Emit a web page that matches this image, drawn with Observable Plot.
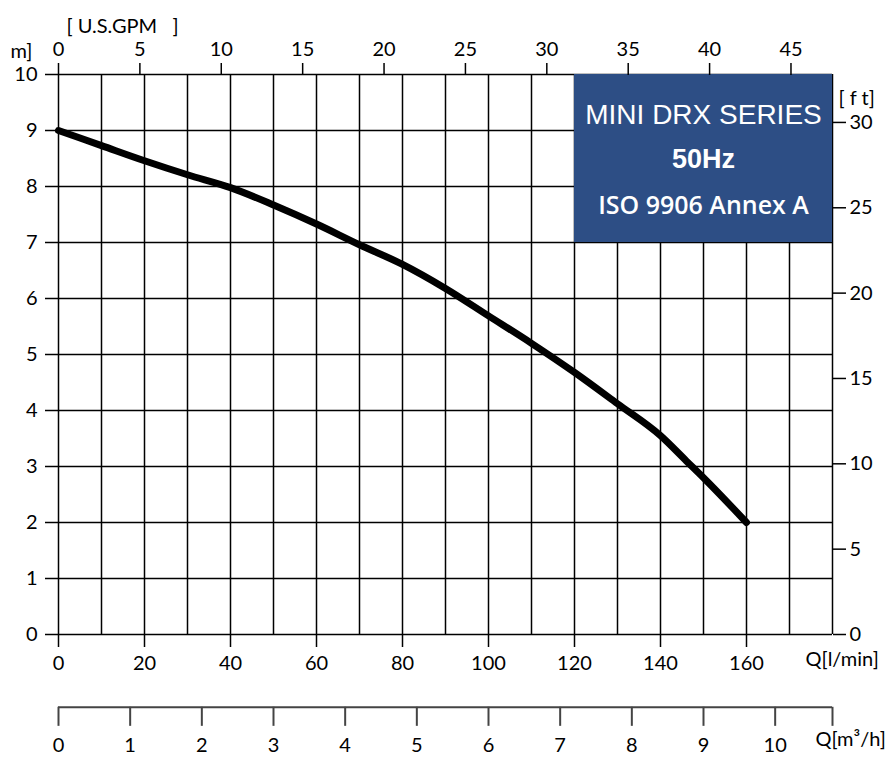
<!DOCTYPE html>
<html>
<head>
<meta charset="utf-8">
<script src="https://cdn.jsdelivr.net/npm/d3@7"></script>
<script src="https://cdn.jsdelivr.net/npm/@observablehq/plot@0.6"></script>
<style>
  html, body { margin: 0; padding: 0; background: #fff; }
</style>
</head>
<body>
<div id="chart"></div>
<script>
// Pump curve: flow Q [l/min] vs head H [m]
const flow = [0, 10, 20, 30, 40, 50, 60, 70, 80, 90, 100, 110, 120, 130, 140, 146, 150, 160];
const head = [9.0, 8.73, 8.46, 8.21, 7.98, 7.67, 7.33, 6.96, 6.61, 6.18, 5.69, 5.2, 4.68, 4.12, 3.55, 3.1, 2.8, 2.0];

const flowTicks = [0, 20, 40, 60, 80, 100, 120, 140, 160];
const headTicks = [0, 1, 2, 3, 4, 5, 6, 7, 8, 9, 10];
const gpmTicks = [0, 5, 10, 15, 20, 25, 30, 35, 40, 45];
const ftTicks = [0, 5, 10, 15, 20, 25, 30];
const m3hTicks = [0, 1, 2, 3, 4, 5, 6, 7, 8, 9, 10];
const titleLines = ["MINI DRX SERIES", "50Hz", "ISO 9906 Annex A"];

const LPM_PER_GPM = 3.78541;
const M_PER_FT = 0.3048;
const LPM_PER_M3H = 1000 / 60;

const data = flow.map((q, i) => ({q, h: head[i]}));
const FS = 20;

const chart = Plot.plot({
  width: 892,
  height: 759,
  marginLeft: 58,
  marginRight: 60,
  marginTop: 74,
  marginBottom: 125,
  style: {fontFamily: "Lato, 'Open Sans', sans-serif", fontSize: "20px", color: "#000", background: "#fff", overflow: "visible"},
  x: {domain: [0, 180], label: null},
  y: {domain: [0, 10], label: null},
  marks: [
    Plot.gridX(d3.range(0, 181, 10), {stroke: "#000", strokeOpacity: 1, strokeWidth: 1.5}),
    Plot.gridY(d3.range(0, 11, 1), {stroke: "#000", strokeOpacity: 1, strokeWidth: 1.5}),
    // Title box
    Plot.rect([0], {x1: 120, x2: 180, y1: 7, y2: 10, fill: "#2d4e85"}),
    Plot.text([titleLines[0]], {x: 150, y: 9.27, fill: "#fff", fontSize: 28, fontFamily: "'Liberation Sans', Arial, sans-serif", fontWeight: 400}),
    Plot.text([titleLines[1]], {x: 150, y: 8.48, fill: "#fff", fontSize: 27, fontFamily: "'Liberation Sans', Arial, sans-serif", fontWeight: 700}),
    Plot.text([titleLines[2]], {x: 150, y: 7.66, fill: "#fff", fontSize: 25, fontFamily: "'Open Sans', sans-serif", fontWeight: 600}),
    // Curve
    Plot.line(data, {x: "q", y: "h", curve: "monotone-x", stroke: "#000", strokeWidth: 7, strokeLinecap: "round", strokeLinejoin: "round"}),
    // Axes
    Plot.axisX(flowTicks, {anchor: "bottom", tickSize: 13, tickPadding: 8, strokeWidth: 1.5, fontSize: FS, label: null, tickFormat: d => String(d)}),
    Plot.axisY(headTicks, {anchor: "left", tickSize: 13, tickPadding: 8, strokeWidth: 1.5, fontSize: FS, label: null, tickFormat: d => String(d)}),
    Plot.axisX(gpmTicks.map(g => g * LPM_PER_GPM), {anchor: "top", tickSize: 12, tickPadding: 7, strokeWidth: 1.5, fontSize: FS, label: null, tickFormat: d => String(Math.round(d / LPM_PER_GPM))}),
    Plot.axisY(ftTicks.map(f => f * M_PER_FT), {anchor: "right", tickSize: 13, tickPadding: 4, strokeWidth: 1.5, fontSize: FS, label: null, tickFormat: d => String(Math.round(d / M_PER_FT))}),
    // m3/h axis below (positioned below the frame via the y scale)
    Plot.ruleY([-1.3], {x1: 0, x2: 180, stroke: "#444", strokeWidth: 2}),
    Plot.ruleX([...m3hTicks.map(t => t * LPM_PER_M3H), 180], {y1: -1.3, y2: -1.64, stroke: "#444", strokeWidth: 2}),
    Plot.text(m3hTicks, {x: d => d * LPM_PER_M3H, y: -1.98, text: d => String(d), fontSize: FS}),
    // Unit labels
    Plot.text(["[ U.S.GPM   ]"], {frameAnchor: "top-left", dx: 8, dy: -56, textAnchor: "start", fontSize: FS}),
    Plot.text(["m]"], {frameAnchor: "top-left", dx: -48, dy: -31, textAnchor: "start", fontSize: FS}),
    Plot.text(["[ f t]"], {frameAnchor: "top-right", dx: 6, dy: 16, textAnchor: "start", fontSize: FS}),
    Plot.text(["Q[l/min]"], {frameAnchor: "bottom-right", dx: -27, dy: 31, textAnchor: "start", fontSize: FS}),
    Plot.text(["Q[m³/h]"], {frameAnchor: "bottom-right", dx: -17, dy: 111, textAnchor: "start", fontSize: FS})
  ]
});

document.getElementById("chart").appendChild(chart);
</script>
</body>
</html>
